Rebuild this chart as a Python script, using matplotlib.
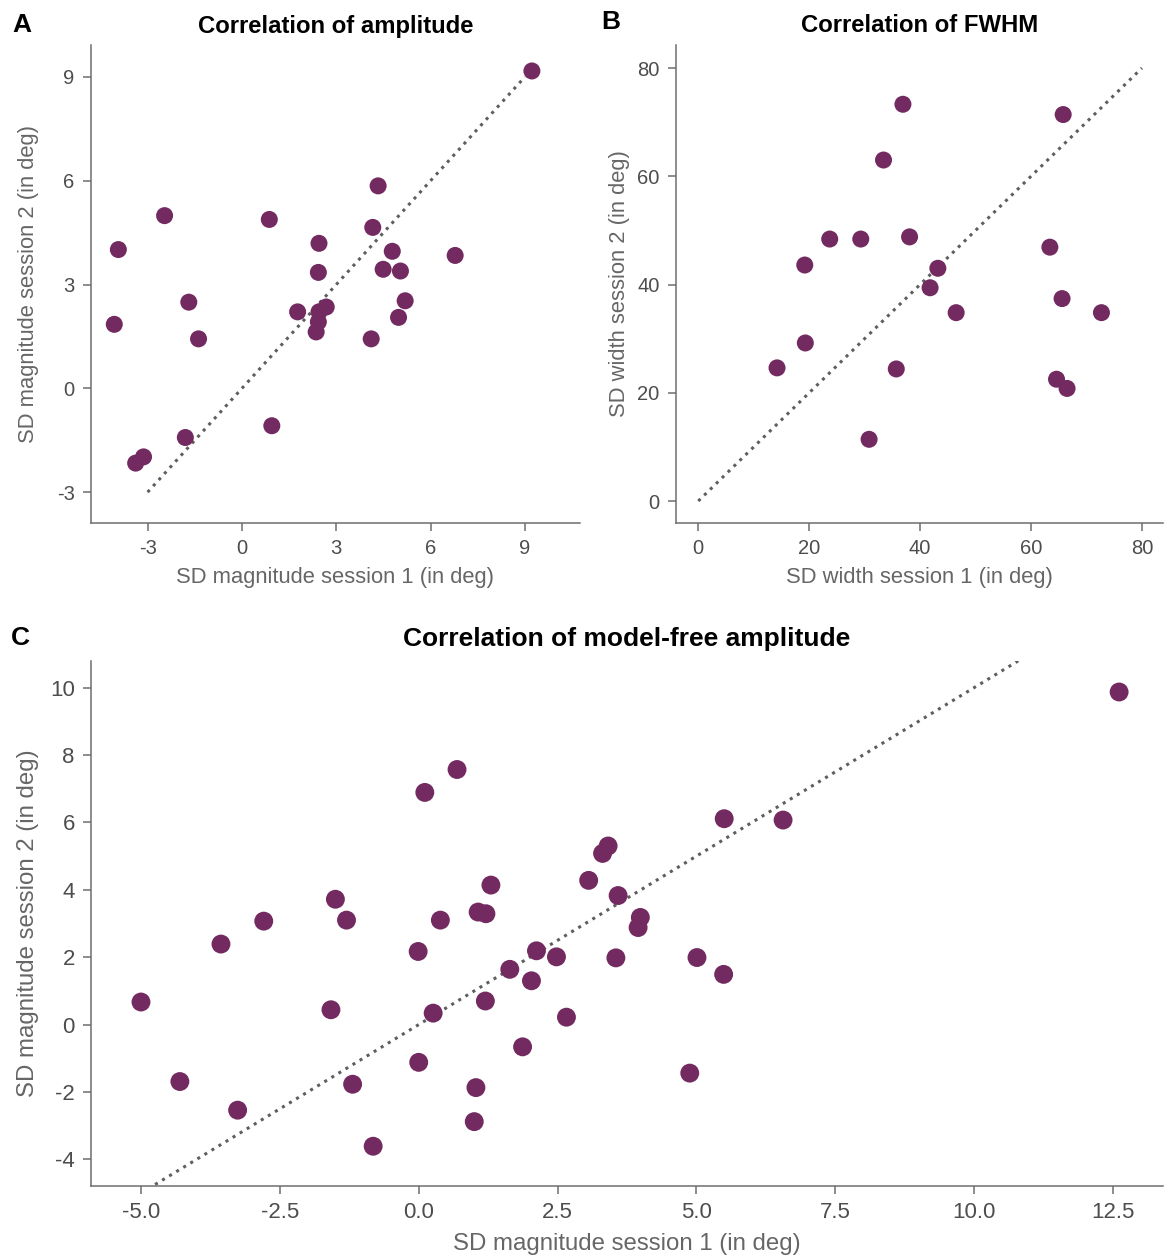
import matplotlib
matplotlib.use("Agg")
import matplotlib.pyplot as plt
import numpy as np

plt.rcParams['font.family'] = ['Liberation Sans', 'DejaVu Sans']
plt.rcParams['axes.unicode_minus'] = False

# ---------------- data ----------------
# Panel A: correlation of amplitude
a_s1 = [9.22, 4.33, -2.46, 0.87, 4.16, -3.93, 2.45, 4.78, 6.78, 2.43, 4.49, 5.04,
        -1.69, 5.19, 2.68, 1.77, 2.45, 2.43, 4.98, -4.06, 2.36, -1.38, 4.11, 0.95,
        -1.80, -3.13, -3.38]
a_s2 = [9.17, 5.85, 4.99, 4.88, 4.65, 4.01, 4.19, 3.96, 3.84, 3.35, 3.44, 3.39,
        2.49, 2.53, 2.35, 2.21, 2.21, 1.92, 2.05, 1.85, 1.63, 1.43, 1.43, -1.08,
        -1.42, -1.98, -2.16]

# Panel B: correlation of FWHM
b_s1 = [36.9, 65.8, 33.4, 23.7, 29.3, 38.1, 63.4, 19.2, 43.2, 41.8, 65.6, 46.5,
        72.7, 19.3, 14.2, 35.7, 64.6, 66.5, 30.8]
b_s2 = [73.3, 71.4, 63.0, 48.4, 48.4, 48.8, 46.9, 43.6, 43.0, 39.4, 37.4, 34.8,
        34.8, 29.2, 24.6, 24.4, 22.5, 20.8, 11.4]

# Panel C: correlation of model-free amplitude
c_s1 = [0.69, 0.11, 1.30, -1.50, 1.07, 1.21, -2.79, -1.30, 0.39, -3.56, -0.01, 1.64,
        -5.00, -1.58, 1.20, 0.26, 1.87, 0.00, -4.30, -1.19, 1.03, -3.26, 1.00, -0.82,
        5.50, 6.56, 3.41, 3.31, 3.06, 3.59, 3.99, 3.95, 2.12, 2.48, 3.55, 5.01, 5.49,
        2.03, 2.66, 4.88, 12.61]
c_s2 = [7.57, 6.89, 4.14, 3.72, 3.34, 3.29, 3.07, 3.10, 3.10, 2.39, 2.17, 1.64,
        0.67, 0.44, 0.70, 0.34, -0.66, -1.12, -1.69, -1.77, -1.87, -2.54, -2.88, -3.61,
        6.11, 6.07, 5.30, 5.08, 4.28, 3.83, 3.18, 2.88, 2.19, 2.01, 1.98, 1.99, 1.49,
        1.30, 0.22, -1.44, 9.87]

a_ticks = [-3, 0, 3, 6, 9]
b_ticks = [0, 20, 40, 60, 80]
c_xticks = [-5.0, -2.5, 0.0, 2.5, 5.0, 7.5, 10.0, 12.5]
c_yticks = [-4, -2, 0, 2, 4, 6, 8, 10]

a_line = [-3, 9]
b_line = [0, 80]
c_line = [-5, 12.5]

# ---------------- style ----------------
PURPLE = '#732A61'
LINEC = '#5E5E5E'
SPINEC = '#6E6E6E'
TICKLC = '#4D4D4D'
LABELC = '#666666'
DOTS = (0, (1, 1.7))

W, H = 1164, 1257
fig = plt.figure(figsize=(W / 100, H / 100), dpi=100)


def fx(px):
    return px / W


def fy(py):
    return 1 - py / H


def make_ax(l, t, r, b):
    return fig.add_axes([fx(l), fy(b), fx(r) - fx(l), fy(t) - fy(b)])


def style(ax, tick_fs, label_fs, title_fs, xlabel, ylabel, title, tpad, ylpad, xlpad):
    for s in ['top', 'right']:
        ax.spines[s].set_visible(False)
    for s in ['left', 'bottom']:
        ax.spines[s].set_color(SPINEC)
        ax.spines[s].set_linewidth(1.1)
    ax.tick_params(axis='both', direction='out', length=5.7, width=1.1,
                   color=SPINEC, labelcolor=TICKLC, labelsize=tick_fs, pad=6)
    ax.set_xlabel(xlabel, fontsize=label_fs, color=LABELC, labelpad=xlpad)
    ax.set_ylabel(ylabel, fontsize=label_fs, color=LABELC, labelpad=ylpad)
    ax.set_title(title, fontsize=title_fs, fontweight='bold', color='black', pad=tpad)


# Panel A
axA = make_ax(91, 45, 580, 523)
axA.plot(a_line, a_line, linestyle=DOTS, color=LINEC, linewidth=2.2, zorder=1)
axA.scatter(a_s1, a_s2, s=150, color=PURPLE, edgecolors='none', zorder=2)
axA.set_xlim(-4.80, 10.75)
axA.set_ylim(-3.89, 9.92)
axA.set_xticks(a_ticks)
axA.set_xticklabels([str(t) for t in a_ticks])
axA.set_yticks(a_ticks)
axA.set_yticklabels([str(t) for t in a_ticks])
style(axA, 14.5, 15.8, 17.2, 'SD magnitude session 1 (in deg)',
      'SD magnitude session 2 (in deg)', 'Correlation of amplitude', 9, 13, 6)

# Panel B
axB = make_ax(676, 45, 1163, 523)
axB.plot(b_line, b_line, linestyle=DOTS, color=LINEC, linewidth=2.2, zorder=1)
axB.scatter(b_s1, b_s2, s=150, color=PURPLE, edgecolors='none', zorder=2)
axB.set_xlim(-4.02, 83.8)
axB.set_ylim(-4.06, 84.25)
axB.set_xticks(b_ticks)
axB.set_xticklabels([str(t) for t in b_ticks])
axB.set_yticks(b_ticks)
axB.set_yticklabels([str(t) for t in b_ticks])
style(axB, 14.5, 15.8, 17.2, 'SD width session 1 (in deg)',
      'SD width session 2 (in deg)', 'Correlation of FWHM', 9, 5, 6)

# Panel C
axC = make_ax(91, 661, 1163, 1186)
axC.plot(c_line, c_line, linestyle=DOTS, color=LINEC, linewidth=2.2, zorder=1)
axC.scatter(c_s1, c_s2, s=185, color=PURPLE, edgecolors='none', zorder=2)
axC.set_xlim(-5.90, 13.40)
axC.set_ylim(-4.79, 10.79)
axC.set_xticks(c_xticks)
axC.set_xticklabels([f"{t:.1f}" for t in c_xticks])
axC.set_yticks(c_yticks)
axC.set_yticklabels([str(t) for t in c_yticks])
style(axC, 16, 17.3, 19, 'SD magnitude session 1 (in deg)',
      'SD magnitude session 2 (in deg)', 'Correlation of model-free amplitude', 11, 8, 7)

# panel letters
fig.text(fx(22), fy(25), 'A', fontsize=19, fontweight='bold', ha='center', va='center')
fig.text(fx(611), fy(22), 'B', fontsize=19, fontweight='bold', ha='center', va='center')
fig.text(fx(20), fy(638), 'C', fontsize=19, fontweight='bold', ha='center', va='center')

fig.savefig('out.png', dpi=100, facecolor='white')
